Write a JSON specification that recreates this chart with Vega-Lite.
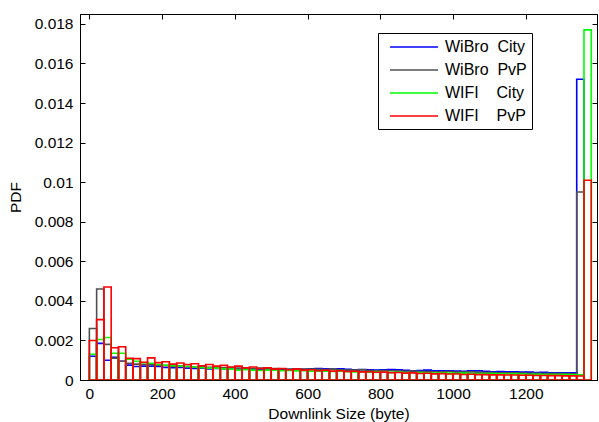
{
  "$schema": "https://vega.github.io/schema/vega-lite/v6.json",
  "width": 517,
  "height": 366,
  "autosize": {"type": "none"},
  "padding": {"left": 80, "top": 14, "right": 2, "bottom": 42},
  "background": "white",
  "config": {
    "font": "Liberation Sans",
    "view": {"stroke": "black", "strokeWidth": 1},
    "axis": {"grid": false, "domainColor": "black", "tickColor": "black", "labelColor": "black", "titleColor": "black", "labelFontSize": 15.5, "titleFontSize": 15.5, "titleFontWeight": "normal", "tickSize": -5, "domainWidth": 1}
  },
  "data": {"values": [
    {"s":"WiBro City","a":0,"b":20,"v":0.0012},{"s":"WiBro City","a":20,"b":40,"v":0.00185},{"s":"WiBro City","a":40,"b":60,"v":0.001},{"s":"WiBro City","a":60,"b":80,"v":0.00115},{"s":"WiBro City","a":80,"b":100,"v":0.00095},
    {"s":"WiBro City","a":100,"b":120,"v":0.00075},{"s":"WiBro City","a":120,"b":140,"v":0.00068},{"s":"WiBro City","a":140,"b":160,"v":0.0007},{"s":"WiBro City","a":160,"b":180,"v":0.0007},{"s":"WiBro City","a":180,"b":200,"v":0.00068},
    {"s":"WiBro City","a":200,"b":220,"v":0.00063},{"s":"WiBro City","a":220,"b":240,"v":0.00062},{"s":"WiBro City","a":240,"b":260,"v":0.00063},{"s":"WiBro City","a":260,"b":280,"v":0.0006},{"s":"WiBro City","a":280,"b":300,"v":0.00058},
    {"s":"WiBro City","a":300,"b":320,"v":0.0006},{"s":"WiBro City","a":320,"b":340,"v":0.00056},{"s":"WiBro City","a":340,"b":360,"v":0.00058},{"s":"WiBro City","a":360,"b":380,"v":0.00056},{"s":"WiBro City","a":380,"b":400,"v":0.00055},
    {"s":"WiBro City","a":400,"b":420,"v":0.00056},{"s":"WiBro City","a":420,"b":440,"v":0.00055},{"s":"WiBro City","a":440,"b":460,"v":0.00054},{"s":"WiBro City","a":460,"b":480,"v":0.00055},{"s":"WiBro City","a":480,"b":500,"v":0.00053},
    {"s":"WiBro City","a":500,"b":520,"v":0.00056},{"s":"WiBro City","a":520,"b":540,"v":0.00054},{"s":"WiBro City","a":540,"b":560,"v":0.00053},{"s":"WiBro City","a":560,"b":580,"v":0.00056},{"s":"WiBro City","a":580,"b":600,"v":0.00054},
    {"s":"WiBro City","a":600,"b":620,"v":0.00057},{"s":"WiBro City","a":620,"b":640,"v":0.00058},{"s":"WiBro City","a":640,"b":660,"v":0.00056},{"s":"WiBro City","a":660,"b":680,"v":0.00055},{"s":"WiBro City","a":680,"b":700,"v":0.00057},
    {"s":"WiBro City","a":700,"b":720,"v":0.00054},{"s":"WiBro City","a":720,"b":740,"v":0.00052},{"s":"WiBro City","a":740,"b":760,"v":0.00053},{"s":"WiBro City","a":760,"b":780,"v":0.00051},{"s":"WiBro City","a":780,"b":800,"v":0.0005},
    {"s":"WiBro City","a":800,"b":820,"v":0.00052},{"s":"WiBro City","a":820,"b":840,"v":0.00053},{"s":"WiBro City","a":840,"b":860,"v":0.00051},{"s":"WiBro City","a":860,"b":880,"v":0.00049},{"s":"WiBro City","a":880,"b":900,"v":0.00047},
    {"s":"WiBro City","a":900,"b":920,"v":0.00048},{"s":"WiBro City","a":920,"b":940,"v":0.0005},{"s":"WiBro City","a":940,"b":960,"v":0.00047},{"s":"WiBro City","a":960,"b":980,"v":0.00046},{"s":"WiBro City","a":980,"b":1000,"v":0.00047},
    {"s":"WiBro City","a":1000,"b":1020,"v":0.00045},{"s":"WiBro City","a":1020,"b":1040,"v":0.00044},{"s":"WiBro City","a":1040,"b":1060,"v":0.00046},{"s":"WiBro City","a":1060,"b":1080,"v":0.00046},{"s":"WiBro City","a":1080,"b":1100,"v":0.00044},
    {"s":"WiBro City","a":1100,"b":1120,"v":0.00042},{"s":"WiBro City","a":1120,"b":1140,"v":0.00043},{"s":"WiBro City","a":1140,"b":1160,"v":0.00042},{"s":"WiBro City","a":1160,"b":1180,"v":0.00041},{"s":"WiBro City","a":1180,"b":1200,"v":0.0004},
    {"s":"WiBro City","a":1200,"b":1220,"v":0.0004},{"s":"WiBro City","a":1220,"b":1240,"v":0.00038},{"s":"WiBro City","a":1240,"b":1260,"v":0.00039},{"s":"WiBro City","a":1260,"b":1280,"v":0.00037},{"s":"WiBro City","a":1280,"b":1300,"v":0.00036},
    {"s":"WiBro City","a":1300,"b":1320,"v":0.00037},{"s":"WiBro City","a":1320,"b":1340,"v":0.00036},{"s":"WiBro City","a":1340,"b":1360,"v":0.0152},

    {"s":"WiBro PvP","a":0,"b":20,"v":0.0026},{"s":"WiBro PvP","a":20,"b":40,"v":0.0046},{"s":"WiBro PvP","a":40,"b":60,"v":0.0018},{"s":"WiBro PvP","a":60,"b":80,"v":0.0011},{"s":"WiBro PvP","a":80,"b":100,"v":0.00095},
    {"s":"WiBro PvP","a":100,"b":120,"v":0.00085},{"s":"WiBro PvP","a":120,"b":140,"v":0.0008},{"s":"WiBro PvP","a":140,"b":160,"v":0.00078},{"s":"WiBro PvP","a":160,"b":180,"v":0.00078},{"s":"WiBro PvP","a":180,"b":200,"v":0.00075},
    {"s":"WiBro PvP","a":200,"b":220,"v":0.00072},{"s":"WiBro PvP","a":220,"b":240,"v":0.0007},{"s":"WiBro PvP","a":240,"b":260,"v":0.00072},{"s":"WiBro PvP","a":260,"b":280,"v":0.00068},{"s":"WiBro PvP","a":280,"b":300,"v":0.00066},
    {"s":"WiBro PvP","a":300,"b":320,"v":0.00068},{"s":"WiBro PvP","a":320,"b":340,"v":0.00064},{"s":"WiBro PvP","a":340,"b":360,"v":0.00065},{"s":"WiBro PvP","a":360,"b":380,"v":0.00062},{"s":"WiBro PvP","a":380,"b":400,"v":0.00063},
    {"s":"WiBro PvP","a":400,"b":420,"v":0.0006},{"s":"WiBro PvP","a":420,"b":440,"v":0.0006},{"s":"WiBro PvP","a":440,"b":460,"v":0.00058},{"s":"WiBro PvP","a":460,"b":480,"v":0.0006},{"s":"WiBro PvP","a":480,"b":500,"v":0.00057},
    {"s":"WiBro PvP","a":500,"b":520,"v":0.00058},{"s":"WiBro PvP","a":520,"b":540,"v":0.00056},{"s":"WiBro PvP","a":540,"b":560,"v":0.00055},{"s":"WiBro PvP","a":560,"b":580,"v":0.00057},{"s":"WiBro PvP","a":580,"b":600,"v":0.00055},
    {"s":"WiBro PvP","a":600,"b":620,"v":0.00055},{"s":"WiBro PvP","a":620,"b":640,"v":0.00054},{"s":"WiBro PvP","a":640,"b":660,"v":0.00053},{"s":"WiBro PvP","a":660,"b":680,"v":0.00055},{"s":"WiBro PvP","a":680,"b":700,"v":0.00052},
    {"s":"WiBro PvP","a":700,"b":720,"v":0.0005},{"s":"WiBro PvP","a":720,"b":740,"v":0.0005},{"s":"WiBro PvP","a":740,"b":760,"v":0.00051},{"s":"WiBro PvP","a":760,"b":780,"v":0.00048},{"s":"WiBro PvP","a":780,"b":800,"v":0.00047},
    {"s":"WiBro PvP","a":800,"b":820,"v":0.00048},{"s":"WiBro PvP","a":820,"b":840,"v":0.00047},{"s":"WiBro PvP","a":840,"b":860,"v":0.00045},{"s":"WiBro PvP","a":860,"b":880,"v":0.00044},{"s":"WiBro PvP","a":880,"b":900,"v":0.00045},
    {"s":"WiBro PvP","a":900,"b":920,"v":0.00043},{"s":"WiBro PvP","a":920,"b":940,"v":0.00043},{"s":"WiBro PvP","a":940,"b":960,"v":0.00042},{"s":"WiBro PvP","a":960,"b":980,"v":0.00042},{"s":"WiBro PvP","a":980,"b":1000,"v":0.00043},
    {"s":"WiBro PvP","a":1000,"b":1020,"v":0.0004},{"s":"WiBro PvP","a":1020,"b":1040,"v":0.0004},{"s":"WiBro PvP","a":1040,"b":1060,"v":0.00041},{"s":"WiBro PvP","a":1060,"b":1080,"v":0.00039},{"s":"WiBro PvP","a":1080,"b":1100,"v":0.00038},
    {"s":"WiBro PvP","a":1100,"b":1120,"v":0.00038},{"s":"WiBro PvP","a":1120,"b":1140,"v":0.00037},{"s":"WiBro PvP","a":1140,"b":1160,"v":0.00036},{"s":"WiBro PvP","a":1160,"b":1180,"v":0.00036},{"s":"WiBro PvP","a":1180,"b":1200,"v":0.00035},
    {"s":"WiBro PvP","a":1200,"b":1220,"v":0.00034},{"s":"WiBro PvP","a":1220,"b":1240,"v":0.00034},{"s":"WiBro PvP","a":1240,"b":1260,"v":0.00033},{"s":"WiBro PvP","a":1260,"b":1280,"v":0.00033},{"s":"WiBro PvP","a":1280,"b":1300,"v":0.00032},
    {"s":"WiBro PvP","a":1300,"b":1320,"v":0.00032},{"s":"WiBro PvP","a":1320,"b":1340,"v":0.00031},{"s":"WiBro PvP","a":1340,"b":1360,"v":0.0095},

    {"s":"WIFI City","a":0,"b":20,"v":0.0013},{"s":"WIFI City","a":20,"b":40,"v":0.00205},{"s":"WIFI City","a":40,"b":60,"v":0.00215},{"s":"WIFI City","a":60,"b":80,"v":0.00135},{"s":"WIFI City","a":80,"b":100,"v":0.00135},
    {"s":"WIFI City","a":100,"b":120,"v":0.00105},{"s":"WIFI City","a":120,"b":140,"v":0.00095},{"s":"WIFI City","a":140,"b":160,"v":0.00088},{"s":"WIFI City","a":160,"b":180,"v":0.00085},{"s":"WIFI City","a":180,"b":200,"v":0.00078},
    {"s":"WIFI City","a":200,"b":220,"v":0.00075},{"s":"WIFI City","a":220,"b":240,"v":0.00072},{"s":"WIFI City","a":240,"b":260,"v":0.0007},{"s":"WIFI City","a":260,"b":280,"v":0.00068},{"s":"WIFI City","a":280,"b":300,"v":0.00066},
    {"s":"WIFI City","a":300,"b":320,"v":0.00062},{"s":"WIFI City","a":320,"b":340,"v":0.0006},{"s":"WIFI City","a":340,"b":360,"v":0.0006},{"s":"WIFI City","a":360,"b":380,"v":0.00056},{"s":"WIFI City","a":380,"b":400,"v":0.00055},
    {"s":"WIFI City","a":400,"b":420,"v":0.0005},{"s":"WIFI City","a":420,"b":440,"v":0.00052},{"s":"WIFI City","a":440,"b":460,"v":0.0005},{"s":"WIFI City","a":460,"b":480,"v":0.00048},{"s":"WIFI City","a":480,"b":500,"v":0.0005},
    {"s":"WIFI City","a":500,"b":520,"v":0.00049},{"s":"WIFI City","a":520,"b":540,"v":0.00047},{"s":"WIFI City","a":540,"b":560,"v":0.00048},{"s":"WIFI City","a":560,"b":580,"v":0.00046},{"s":"WIFI City","a":580,"b":600,"v":0.00047},
    {"s":"WIFI City","a":600,"b":620,"v":0.00045},{"s":"WIFI City","a":620,"b":640,"v":0.00044},{"s":"WIFI City","a":640,"b":660,"v":0.00045},{"s":"WIFI City","a":660,"b":680,"v":0.00043},{"s":"WIFI City","a":680,"b":700,"v":0.00044},
    {"s":"WIFI City","a":700,"b":720,"v":0.00042},{"s":"WIFI City","a":720,"b":740,"v":0.00041},{"s":"WIFI City","a":740,"b":760,"v":0.00042},{"s":"WIFI City","a":760,"b":780,"v":0.0004},{"s":"WIFI City","a":780,"b":800,"v":0.00041},
    {"s":"WIFI City","a":800,"b":820,"v":0.00039},{"s":"WIFI City","a":820,"b":840,"v":0.00038},{"s":"WIFI City","a":840,"b":860,"v":0.0004},{"s":"WIFI City","a":860,"b":880,"v":0.00038},{"s":"WIFI City","a":880,"b":900,"v":0.00037},
    {"s":"WIFI City","a":900,"b":920,"v":0.00038},{"s":"WIFI City","a":920,"b":940,"v":0.00036},{"s":"WIFI City","a":940,"b":960,"v":0.00035},{"s":"WIFI City","a":960,"b":980,"v":0.00036},{"s":"WIFI City","a":980,"b":1000,"v":0.00035},
    {"s":"WIFI City","a":1000,"b":1020,"v":0.00034},{"s":"WIFI City","a":1020,"b":1040,"v":0.00035},{"s":"WIFI City","a":1040,"b":1060,"v":0.00033},{"s":"WIFI City","a":1060,"b":1080,"v":0.00033},{"s":"WIFI City","a":1080,"b":1100,"v":0.00032},
    {"s":"WIFI City","a":1100,"b":1120,"v":0.00032},{"s":"WIFI City","a":1120,"b":1140,"v":0.00031},{"s":"WIFI City","a":1140,"b":1160,"v":0.0003},{"s":"WIFI City","a":1160,"b":1180,"v":0.00031},{"s":"WIFI City","a":1180,"b":1200,"v":0.0003},
    {"s":"WIFI City","a":1200,"b":1220,"v":0.00029},{"s":"WIFI City","a":1220,"b":1240,"v":0.00029},{"s":"WIFI City","a":1240,"b":1260,"v":0.00028},{"s":"WIFI City","a":1260,"b":1280,"v":0.00028},{"s":"WIFI City","a":1280,"b":1300,"v":0.00027},
    {"s":"WIFI City","a":1300,"b":1320,"v":0.00027},{"s":"WIFI City","a":1320,"b":1340,"v":0.00026},{"s":"WIFI City","a":1340,"b":1360,"v":0.00026},{"s":"WIFI City","a":1360,"b":1380,"v":0.0177},

    {"s":"WIFI PvP","a":0,"b":20,"v":0.002},{"s":"WIFI PvP","a":20,"b":40,"v":0.00305},{"s":"WIFI PvP","a":40,"b":60,"v":0.0047},{"s":"WIFI PvP","a":60,"b":80,"v":0.00163},{"s":"WIFI PvP","a":80,"b":100,"v":0.00168},
    {"s":"WIFI PvP","a":100,"b":120,"v":0.0011},{"s":"WIFI PvP","a":120,"b":140,"v":0.00108},{"s":"WIFI PvP","a":140,"b":160,"v":0.0009},{"s":"WIFI PvP","a":160,"b":180,"v":0.00112},{"s":"WIFI PvP","a":180,"b":200,"v":0.00088},
    {"s":"WIFI PvP","a":200,"b":220,"v":0.00092},{"s":"WIFI PvP","a":220,"b":240,"v":0.0008},{"s":"WIFI PvP","a":240,"b":260,"v":0.00086},{"s":"WIFI PvP","a":260,"b":280,"v":0.00078},{"s":"WIFI PvP","a":280,"b":300,"v":0.00082},
    {"s":"WIFI PvP","a":300,"b":320,"v":0.00072},{"s":"WIFI PvP","a":320,"b":340,"v":0.00078},{"s":"WIFI PvP","a":340,"b":360,"v":0.0007},{"s":"WIFI PvP","a":360,"b":380,"v":0.00074},{"s":"WIFI PvP","a":380,"b":400,"v":0.00066},
    {"s":"WIFI PvP","a":400,"b":420,"v":0.0007},{"s":"WIFI PvP","a":420,"b":440,"v":0.00062},{"s":"WIFI PvP","a":440,"b":460,"v":0.00066},{"s":"WIFI PvP","a":460,"b":480,"v":0.00058},{"s":"WIFI PvP","a":480,"b":500,"v":0.00062},
    {"s":"WIFI PvP","a":500,"b":520,"v":0.00055},{"s":"WIFI PvP","a":520,"b":540,"v":0.00058},{"s":"WIFI PvP","a":540,"b":560,"v":0.00052},{"s":"WIFI PvP","a":560,"b":580,"v":0.00055},{"s":"WIFI PvP","a":580,"b":600,"v":0.0005},
    {"s":"WIFI PvP","a":600,"b":620,"v":0.00052},{"s":"WIFI PvP","a":620,"b":640,"v":0.00047},{"s":"WIFI PvP","a":640,"b":660,"v":0.00049},{"s":"WIFI PvP","a":660,"b":680,"v":0.00045},{"s":"WIFI PvP","a":680,"b":700,"v":0.00047},
    {"s":"WIFI PvP","a":700,"b":720,"v":0.00043},{"s":"WIFI PvP","a":720,"b":740,"v":0.00044},{"s":"WIFI PvP","a":740,"b":760,"v":0.00041},{"s":"WIFI PvP","a":760,"b":780,"v":0.00042},{"s":"WIFI PvP","a":780,"b":800,"v":0.00039},
    {"s":"WIFI PvP","a":800,"b":820,"v":0.0004},{"s":"WIFI PvP","a":820,"b":840,"v":0.00037},{"s":"WIFI PvP","a":840,"b":860,"v":0.00038},{"s":"WIFI PvP","a":860,"b":880,"v":0.00035},{"s":"WIFI PvP","a":880,"b":900,"v":0.00036},
    {"s":"WIFI PvP","a":900,"b":920,"v":0.00033},{"s":"WIFI PvP","a":920,"b":940,"v":0.00034},{"s":"WIFI PvP","a":940,"b":960,"v":0.00031},{"s":"WIFI PvP","a":960,"b":980,"v":0.00032},{"s":"WIFI PvP","a":980,"b":1000,"v":0.0003},
    {"s":"WIFI PvP","a":1000,"b":1020,"v":0.0003},{"s":"WIFI PvP","a":1020,"b":1040,"v":0.00028},{"s":"WIFI PvP","a":1040,"b":1060,"v":0.00029},{"s":"WIFI PvP","a":1060,"b":1080,"v":0.00027},{"s":"WIFI PvP","a":1080,"b":1100,"v":0.00027},
    {"s":"WIFI PvP","a":1100,"b":1120,"v":0.00026},{"s":"WIFI PvP","a":1120,"b":1140,"v":0.00026},{"s":"WIFI PvP","a":1140,"b":1160,"v":0.00025},{"s":"WIFI PvP","a":1160,"b":1180,"v":0.00025},{"s":"WIFI PvP","a":1180,"b":1200,"v":0.00024},
    {"s":"WIFI PvP","a":1200,"b":1220,"v":0.00024},{"s":"WIFI PvP","a":1220,"b":1240,"v":0.00023},{"s":"WIFI PvP","a":1240,"b":1260,"v":0.00023},{"s":"WIFI PvP","a":1260,"b":1280,"v":0.00022},{"s":"WIFI PvP","a":1280,"b":1300,"v":0.00022},
    {"s":"WIFI PvP","a":1300,"b":1320,"v":0.00021},{"s":"WIFI PvP","a":1320,"b":1340,"v":0.00021},{"s":"WIFI PvP","a":1340,"b":1360,"v":0.0002},{"s":"WIFI PvP","a":1360,"b":1380,"v":0.0101}
  ]},
  "resolve": {"axis": {"x": "independent", "y": "independent"}},
  "layer": [
    {
      "mark": {"type": "bar", "filled": false, "strokeWidth": 1.6, "clip": true, "orient": "vertical"},
      "encoding": {
        "x": {"field": "a", "type": "quantitative", "scale": {"domain": [-12, 1382], "nice": false, "zero": false},
              "axis": {"orient": "bottom", "values": [0, 200, 400, 600, 800, 1000, 1200], "format": "d", "title": "Downlink Size (byte)", "labelPadding": 11, "titlePadding": 5}},
        "x2": {"field": "b"},
        "y": {"field": "v", "type": "quantitative", "stack": null, "scale": {"domain": [0, 0.0185], "nice": false},
              "axis": {"orient": "left", "values": [0, 0.002, 0.004, 0.006, 0.008, 0.01, 0.012, 0.014, 0.016, 0.018], "format": "~g", "title": "PDF", "labelPadding": 12, "titlePadding": 11}},
        "y2": {"datum": 0},
        "color": {"field": "s", "type": "nominal",
                  "scale": {"domain": ["WiBro City", "WiBro PvP", "WIFI City", "WIFI PvP"], "range": ["#0000ff", "#505050", "#00ff00", "#ff0000"]},
                  "legend": {"orient": "none", "legendX": 298, "legendY": 19, "title": null, "symbolType": "M-3,0L3,0", "symbolSize": 256, "symbolStrokeWidth": 1.5, "labelFontSize": 16, "labelColor": "black", "fillColor": "white", "strokeColor": "black", "padding": 5, "rowPadding": 6, "symbolOffset": 22, "labelOffset": 22,
                             "labelExpr": "datum.label == 'WiBro City' ? 'WiBro\u00a0\u00a0City' : datum.label == 'WiBro PvP' ? 'WiBro\u00a0\u00a0PvP' : datum.label == 'WIFI City' ? 'WIFI\u00a0\u00a0\u00a0\u00a0City' : 'WIFI\u00a0\u00a0\u00a0\u00a0PvP'"}}
      }
    },
    {
      "mark": {"type": "point", "opacity": 0},
      "encoding": {
        "x": {"field": "a", "type": "quantitative", "axis": {"orient": "top", "values": [0, 200, 400, 600, 800, 1000, 1200], "labels": false, "title": null}},
        "y": {"field": "v", "type": "quantitative", "axis": {"orient": "right", "values": [0, 0.002, 0.004, 0.006, 0.008, 0.01, 0.012, 0.014, 0.016, 0.018], "labels": false, "title": null}}
      }
    }
  ]
}
